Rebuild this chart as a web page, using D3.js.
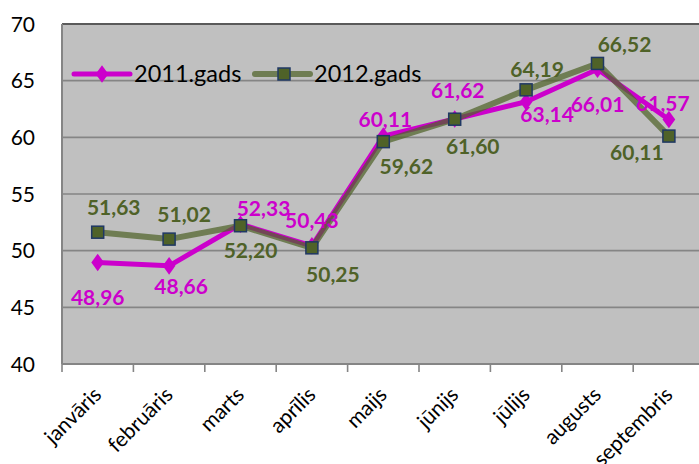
<!DOCTYPE html>
<html>
<head>
<meta charset="utf-8">
<script src="https://cdn.jsdelivr.net/npm/d3@7"></script>
<style>
  html, body { margin: 0; padding: 0; background: #ffffff; }
  svg { display: block; }
</style>
</head>
<body>
<svg id="chart" width="699" height="464"></svg>
<script>
// ---- data ----
const categories = ["janvāris", "februāris", "marts", "aprīlis", "maijs", "jūnijs", "jūlijs", "augusts", "septembris"];
const values2011 = [48.96, 48.66, 52.33, 50.43, 60.11, 61.62, 63.14, 66.01, 61.57];
const values2012 = [51.63, 51.02, 52.20, 50.25, 59.62, 61.60, 64.19, 66.52, 60.11];
const labels2011 = ["48,96", "48,66", "52,33", "50,43", "60,11", "61,62", "63,14", "66,01", "61,57"];
const labels2012 = ["51,63", "51,02", "52,20", "50,25", "59,62", "61,60", "64,19", "66,52", "60,11"];
const seriesNames = ["2011.gads", "2012.gads"];
const yTicks = [40, 45, 50, 55, 60, 65, 70];

// label placement offsets (layout only)
const dx2011 = [0, 12, 23, 0, 2, 3, 21, 0, -6];
const dy2011 = [35, 21, -16, -25, -17, -29, 13, 35, -16];
const dx2012 = [16, 15, 10, 21, 23, 18, 11, 27, -32];
const dy2012 = [-25, -25, 25, 27, 25, 27, -20, -19, 16];

(function () {
const svg = d3.select("#chart");
const pLeft = 62, pTop = 24, pBottom = 364, bandW = 71.4;
const x = d3.scaleBand().domain(categories).range([pLeft, pLeft + bandW * categories.length]).padding(0);
const y = d3.scaleLinear().domain([40, 70]).range([pBottom, pTop]);
const pRight = pLeft + bandW * categories.length;

const magenta = "#CC00CC";
const olive = "#4F6228";
const font = "Lato, 'Open Sans', sans-serif";

// plot background
svg.append("rect").attr("x", pLeft).attr("y", pTop)
  .attr("width", pRight - pLeft).attr("height", pBottom - pTop)
  .attr("fill", "#C0C0C0");

// gridlines
svg.append("g").selectAll("line").data(yTicks.filter(t => t > 40 && t < 70)).join("line")
  .attr("x1", pLeft).attr("x2", pRight)
  .attr("y1", d => y(d)).attr("y2", d => y(d))
  .attr("stroke", "#858585").attr("stroke-width", 1.6);

// top border
svg.append("line").attr("x1", pLeft).attr("x2", pRight).attr("y1", pTop).attr("y2", pTop)
  .attr("stroke", "#5a5a5a").attr("stroke-width", 2);
// left axis
svg.append("line").attr("x1", pLeft).attr("x2", pLeft).attr("y1", pTop).attr("y2", pBottom)
  .attr("stroke", "#858585").attr("stroke-width", 2);
// bottom axis
svg.append("line").attr("x1", pLeft).attr("x2", pRight).attr("y1", pBottom).attr("y2", pBottom)
  .attr("stroke", "#858585").attr("stroke-width", 2);

// x ticks at category boundaries
const boundaries = categories.map(c => x(c)).concat([pRight]);
svg.append("g").selectAll("line").data(boundaries).join("line")
  .attr("x1", d => d).attr("x2", d => d)
  .attr("y1", pBottom).attr("y2", pBottom + 8)
  .attr("stroke", "#858585").attr("stroke-width", 1.6);

// y tick labels
svg.append("g").selectAll("text").data(yTicks).join("text")
  .attr("x", 35).attr("y", d => y(d)).attr("dy", "0.36em")
  .attr("text-anchor", "end")
  .attr("font-family", font).attr("font-size", 21)
  .attr("fill", "#000").text(d => d);

// x labels rotated
svg.append("g").selectAll("text").data(categories).join("text")
  .attr("transform", d => `translate(${x(d) + x.bandwidth() / 2 + 5},${pBottom + 32}) rotate(-45)`)
  .attr("text-anchor", "end")
  .attr("font-family", font).attr("font-size", 21)
  .attr("fill", "#000").text(d => d);

const cx = (d, i) => x(categories[i]) + x.bandwidth() / 2;
const line = d3.line().x((d, i) => x(categories[i]) + x.bandwidth() / 2).y(d => y(d));

// 2011 series
svg.append("path").datum(values2011).attr("d", line)
  .attr("fill", "none").attr("stroke", magenta).attr("stroke-width", 5).attr("stroke-linejoin", "round");
const diamond = d3.symbol().type(d3.symbolDiamond).size(90);
svg.append("g").selectAll("path").data(values2011).join("path")
  .attr("d", diamond)
  .attr("transform", (d, i) => `translate(${cx(d, i)},${y(d)}) scale(1.25,1)`)
  .attr("fill", magenta);

// 2012 series
svg.append("path").datum(values2012).attr("d", line)
  .attr("fill", "none").attr("stroke", olive).attr("stroke-opacity", 0.72)
  .attr("stroke-width", 6).attr("stroke-linejoin", "round");
svg.append("g").selectAll("rect").data(values2012).join("rect")
  .attr("x", (d, i) => cx(d, i) - 6).attr("y", d => y(d) - 6)
  .attr("width", 12).attr("height", 12)
  .attr("fill", olive).attr("stroke", "#1F3864").attr("stroke-width", 1.5);

// data labels
svg.append("g").selectAll("text").data(values2011).join("text")
  .attr("x", (d, i) => cx(d, i) + dx2011[i]).attr("y", (d, i) => y(d) + dy2011[i])
  .attr("dy", "0.36em").attr("text-anchor", "middle")
  .attr("font-family", font).attr("font-weight", "bold").attr("font-size", 21)
  .attr("fill", magenta).text((d, i) => labels2011[i]);
svg.append("g").selectAll("text").data(values2012).join("text")
  .attr("x", (d, i) => cx(d, i) + dx2012[i]).attr("y", (d, i) => y(d) + dy2012[i])
  .attr("dy", "0.36em").attr("text-anchor", "middle")
  .attr("font-family", font).attr("font-weight", "bold").attr("font-size", 21)
  .attr("fill", olive).text((d, i) => labels2012[i]);

// legend
const legY = 74;
const leg = svg.append("g");
leg.append("line").attr("x1", 74).attr("x2", 130).attr("y1", legY).attr("y2", legY)
  .attr("stroke", magenta).attr("stroke-width", 5).attr("stroke-linecap", "round");
leg.append("path").attr("d", diamond).attr("transform", `translate(102,${legY}) scale(1.25,1)`).attr("fill", magenta);
leg.append("text").attr("x", 134).attr("y", legY).attr("dy", "0.36em")
  .attr("font-family", font).attr("font-size", 23.5).attr("fill", "#000").text(seriesNames[0]);
leg.append("line").attr("x1", 255).attr("x2", 310).attr("y1", legY).attr("y2", legY)
  .attr("stroke", olive).attr("stroke-opacity", 0.72).attr("stroke-width", 6).attr("stroke-linecap", "round");
leg.append("rect").attr("x", 284 - 6).attr("y", legY - 6).attr("width", 12).attr("height", 12)
  .attr("fill", olive).attr("stroke", "#1F3864").attr("stroke-width", 1.5);
leg.append("text").attr("x", 314).attr("y", legY).attr("dy", "0.36em")
  .attr("font-family", font).attr("font-size", 23.5).attr("fill", "#000").text(seriesNames[1]);
})();
</script>
</body>
</html>
